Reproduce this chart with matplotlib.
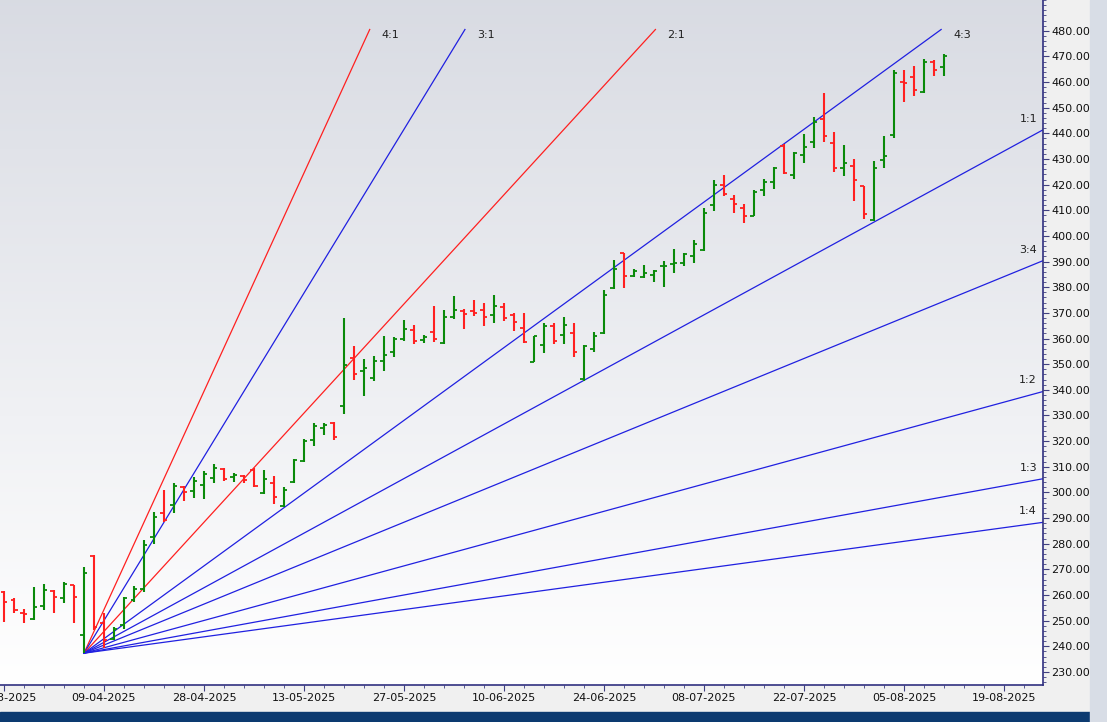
import numpy as np
import matplotlib
matplotlib.use("Agg")
import matplotlib.pyplot as plt
from matplotlib.ticker import MultipleLocator, FixedLocator
from matplotlib.patches import Rectangle

opens = [261.3,258.1,253.1,250.5,255.7,261.7,258.7,264.0,244.4,275.2,249.1,242.7,248.3,258.1,262.3,282.8,292.1,295.1,302.0,300.7,
         302.9,305.5,309.0,305.9,306.4,308.8,299.7,303.6,294.7,304.2,312.3,320.5,325.1,327.0,333.5,352.3,347.5,344.5,351.4,354.9,
         359.8,363.4,359.5,362.7,358.4,368.3,370.9,370.9,371.2,369.2,372.2,369.2,364.0,351.0,357.5,364.7,361.4,362.1,344.2,355.9,
         362.1,379.7,393.3,384.4,383.9,384.8,388.1,389.2,389.4,392.0,394.6,412.1,419.9,414.4,410.8,407.9,418.0,421.2,435.1,423.8,
         431.6,436.8,445.6,436.2,426.5,427.1,419.3,406.3,429.8,439.4,460.2,461.9,456.3,468.0,465.8]
highs = [261.7,258.7,254.6,263.0,264.3,262.0,265.2,264.0,271.1,275.6,252.9,247.4,259.4,263.5,281.5,292.5,301.0,303.8,302.5,305.9,
         308.5,311.1,309.4,307.7,306.8,309.4,308.8,306.2,302.3,313.0,320.8,326.9,326.9,327.6,368.0,357.1,352.0,353.0,360.8,360.5,
         367.3,365.3,361.4,372.7,371.2,376.6,371.5,375.1,374.0,377.0,374.0,370.1,369.9,361.0,366.2,366.2,368.3,366.2,357.5,362.7,
         379.0,390.7,393.5,387.1,388.7,386.8,390.4,394.9,393.3,398.5,410.8,421.9,423.8,416.0,412.5,418.0,422.2,426.8,435.9,432.9,
         439.8,446.3,455.9,440.7,435.5,430.0,419.5,429.2,439.0,464.8,464.8,466.1,469.0,468.7,471.0]
lows = [249.6,252.9,249.1,250.3,254.2,252.9,256.8,249.2,237.3,246.4,239.2,242.5,246.6,257.4,261.3,279.9,288.6,291.9,296.8,297.7,
        297.4,303.8,304.6,304.2,303.8,302.3,299.4,295.5,294.5,303.8,312.0,318.1,322.5,320.5,330.6,343.7,337.6,343.6,347.5,352.7,
        359.2,357.9,358.2,358.8,357.9,367.5,363.7,368.8,364.9,366.2,367.0,363.1,358.2,351.0,354.3,357.9,357.9,352.7,343.6,354.9,
        361.8,379.3,379.7,383.9,383.5,382.2,380.0,385.5,388.1,389.4,394.3,409.9,415.4,408.9,405.2,407.6,415.4,418.3,424.2,422.2,
        428.4,434.3,436.8,425.1,423.2,413.8,406.6,405.8,426.5,438.2,452.4,454.4,455.9,462.2,462.2]
closes = [257.4,254.2,252.6,255.5,262.0,259.4,264.3,259.1,268.7,247.7,242.5,246.6,258.7,262.5,279.5,290.6,289.3,302.5,300.3,304.6,
          307.2,309.4,305.2,306.8,304.9,302.5,305.2,298.1,301.0,312.7,320.2,325.9,326.4,321.5,349.7,346.2,348.5,351.4,353.6,359.8,
          363.7,359.2,360.5,359.8,368.3,371.2,369.6,369.9,368.3,372.7,368.0,366.6,358.8,360.8,364.7,359.2,365.3,354.9,357.1,360.8,
          377.0,387.1,384.2,386.5,385.5,386.5,388.4,389.6,393.0,396.9,409.1,419.9,416.4,412.5,407.6,417.3,421.2,426.4,424.7,432.3,
          434.6,444.6,439.0,426.5,428.6,421.9,408.6,426.4,431.0,463.5,459.8,457.0,468.0,464.8,470.0]

tick_pos = [0, 10, 20, 30, 40, 50, 60, 70, 80, 90, 100]
tick_labels = ["25-03-2025", "09-04-2025", "28-04-2025", "13-05-2025", "27-05-2025", "10-06-2025",
               "24-06-2025", "08-07-2025", "22-07-2025", "05-08-2025", "19-08-2025"]

pivot_idx = 8
pivot_price = 237.3
unit_slope = 2.128  # price per bar for 1:1
fan_names = ["4:1", "3:1", "2:1", "4:3", "1:1", "3:4", "1:2", "1:3", "1:4"]
fan_ratios = [4, 3, 2, 4/3, 1, 3/4, 1/2, 1/3, 1/4]
fan_colors = ["#ff2020", "#2020e0", "#ff2020", "#2020e0", "#2020e0", "#2020e0", "#2020e0", "#2020e0", "#2020e0"]

W, H = 1107, 722
fig = plt.figure(figsize=(W/100, H/100), dpi=100)
fig.patch.set_facecolor("#f0f0f0")
ax = fig.add_axes([0, 37/H, 1043/W, 1 - 37/H])
xmin, xmax = -0.4, 103.9
ymin, ymax = 224.9, 492.0
ax.set_xlim(xmin, xmax)
ax.set_ylim(ymin, ymax)

grad = np.linspace(0, 1, 256).reshape(-1, 1)
top = np.array([0.85, 0.86, 0.89]); bot = np.array([1.0, 1.0, 1.0])
img = top[None, None, :] * (1 - grad[:, :, None]) + bot[None, None, :] * grad[:, :, None]
ax.imshow(img, extent=[xmin, xmax, ymin, ymax], aspect="auto", origin="upper", zorder=0)

ytop = 480.5
for name, r, c in zip(fan_names, fan_ratios, fan_colors):
    s = unit_slope * r
    xe = min(xmax, pivot_idx + (ytop - pivot_price) / s)
    ye = pivot_price + s * (xe - pivot_idx)
    ax.plot([pivot_idx, xe], [pivot_price, ye], color=c, lw=0.9, zorder=2)
    if xe < xmax - 0.5:
        ax.text(xe + 1.2, 478.5, name, fontsize=8, color="#202020", va="center", ha="left", zorder=5)
    else:
        ax.text(xmax - 0.6, ye + 4.3, name, fontsize=8, color="#202020", va="center", ha="right", zorder=5)

for i, (o, h, l, c) in enumerate(zip(opens, highs, lows, closes)):
    col = "#0a8a0a" if c >= o else "#ff2020"
    ax.vlines(i, l, h, color=col, lw=1.5, zorder=3)
    ax.hlines(o, i - 0.35, i, color=col, lw=1.3, zorder=3)
    ax.hlines(c, i, i + 0.35, color=col, lw=1.3, zorder=3)

ax.yaxis.tick_right()
ax.yaxis.set_minor_locator(MultipleLocator(2))
ax.set_yticks([v for v in range(230, 481, 10)])
ax.set_yticklabels([f"{v:.2f}" for v in range(230, 481, 10)], fontsize=8)
ax.xaxis.set_major_locator(FixedLocator(tick_pos))
ax.set_xticklabels(tick_labels, fontsize=8)
ax.xaxis.set_minor_locator(MultipleLocator(2))
ax.tick_params(axis="both", which="major", length=4, color="#404080", pad=2, labelcolor="#101010")
ax.tick_params(axis="both", which="minor", length=2, color="#404080")
for sp in ["top", "left"]:
    ax.spines[sp].set_visible(False)
for sp in ["bottom", "right"]:
    ax.spines[sp].set_color("#303080")
    ax.spines[sp].set_linewidth(1.2)

fig.patches.append(Rectangle((0, 0), 1090/W, 10/H, transform=fig.transFigure, color="#0c3a70", zorder=10))
fig.patches.append(Rectangle((1090/W, 0), 17/W, 1, transform=fig.transFigure, color="#d8dde6", zorder=10))

fig.savefig("out.png", dpi=100, facecolor=fig.get_facecolor())
